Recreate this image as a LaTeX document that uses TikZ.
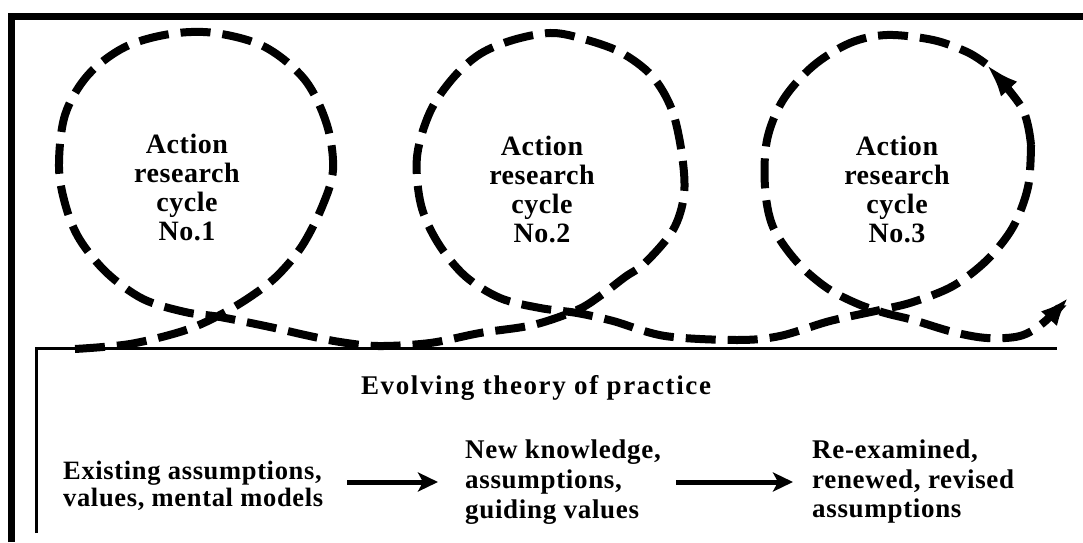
\documentclass[tikz,border=0pt]{standalone}
\usepackage{fontspec}
\setmainfont{Liberation Serif}
\newfontfamily\cyclefont[LetterSpace=2]{Liberation Serif}
\newfontfamily\theoryfont[LetterSpace=6]{Liberation Serif}
\newfontfamily\stagefont[LetterSpace=2.5]{Liberation Serif}
\usetikzlibrary{arrows.meta, positioning}

\begin{document}
\begin{tikzpicture}[
    x=1pt, y=1pt,
    framestroke/.style={line width=7pt, line join=miter},
    boxstroke/.style={line width=2.5pt},
    looppath/.style={line width=8pt, dash pattern=on 30pt off 12pt},
    looptip/.style={-{Latex[length=28pt,width=22pt]}},
    midtip/.style={-{Latex[length=34pt,width=22pt]}},
    cyclelabel/.style={font=\cyclefont\bfseries\fontsize{28}{29}\selectfont,
                       align=center, inner sep=0pt},
    theorylabel/.style={font=\theoryfont\bfseries\fontsize{27}{30}\selectfont,
                        inner sep=0pt},
    stagelabel/.style={font=\stagefont\bfseries\fontsize{27}{28}\selectfont,
                       align=left, anchor=west, inner sep=0pt},
    flowarrow/.style={-{Stealth[length=20pt,width=19pt,inset=5pt]},
                      line width=5pt},
  ]
  \useasboundingbox (0,0) rectangle (1083,542);

  % outer frame (top and left only) and the lower box
  \draw[framestroke] (11.5,0) -- (11.5,525) -- (1083,525);
  \draw[boxstroke] (36.5,9) -- (36.5,193.5) -- (1057,193.5);

  % -----------------------------------------------------------
  % the three cycle labels
  % -----------------------------------------------------------
  \node[cyclelabel] (cyc1) at (187,355) {Action\\research\\cycle\\No.1};
  \node[cyclelabel] (cyc2) at (542,353) {Action\\research\\cycle\\No.2};
  \node[cyclelabel] (cyc3) at (897,353) {Action\\research\\cycle\\No.3};

  % -----------------------------------------------------------
  % looping dashed path, split at the tip inside the third loop
  % -----------------------------------------------------------
  \draw[looppath] plot[smooth, tension=0.55] coordinates {
      (75,193) (130,198) (183,211) (218,226) (250,245) (277,266)
      (302,296) (322,335) (333,372) (327,417) (305,462) (265,495)
      (215,509) (170,508) (125,495) (88,467) (65,427) (59,375)
      (66,335) (80,302) (107,269) (143,243) (185,230) (220,225)
      (270,215) (305,207) (340,200) (378,196) (430,199) (480,209)
      (533,217) (577,232) (600,246) (625,265) (645,279) (673,312)
      (684,347) (682,387) (672,432) (652,466) (620,490) (580,504)
      (550,509) (513,502) (480,488) (453,464) (430,430) (417,385)
      (421,337) (438,299) (465,266) (500,244) (540,234) (577,229)
      (613,221) (665,206) (737,202) (780,206) (830,221) (880,232)
      (913,240) (953,256) (987,282) (1013,315) (1028,355) (1031,397)};
  \draw[looppath, midtip] plot[smooth, tension=0.55] coordinates {
      (1031,397) (1022,434) (986,478)};
  \draw[looppath, looptip] plot[smooth, tension=0.55] coordinates {
      (986,478) (967,490) (933,502) (887,507) (850,499) (813,476)
      (783,442) (767,402) (765,355) (773,315) (797,280) (827,254)
      (858,238) (885,229) (913,222) (953,210) (987,204) (1020,206)
      (1043,219) (1068,244)};

  % -----------------------------------------------------------
  % evolving theory strip
  % -----------------------------------------------------------
  \node[theorylabel] (theory) at (536,154) {Evolving theory of practice};

  \node[stagelabel, font=\stagefont\bfseries\fontsize{26.5}{27.5}\selectfont]
        (exist) at (63,56) {Existing assumptions,\\values, mental models};
  \node[stagelabel, font=\stagefont\bfseries\fontsize{27}{30}\selectfont]
        (newk) at (465,60) {New knowledge,\\assumptions,\\guiding values};
  \node[stagelabel, font=\stagefont\bfseries\fontsize{27}{29.5}\selectfont]
        (renew) at (812,60) {Re-examined,\\renewed, revised\\assumptions};

  \draw[flowarrow, shorten <=24pt, shorten >=27pt]
        (exist.east |- newk.west) -- (newk.west);
  \draw[flowarrow, shorten <=15pt, shorten >=19pt]
        (newk.east |- renew.west) -- (renew.west);

\end{tikzpicture}
\end{document}
